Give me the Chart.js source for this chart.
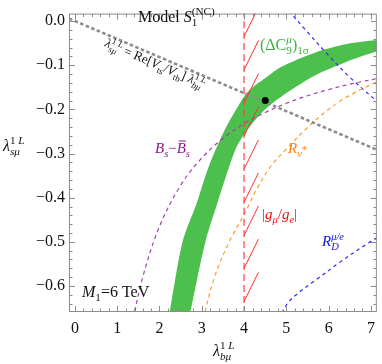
<!DOCTYPE html>
<html>
<head>
<meta charset="utf-8">
<script src="https://cdn.jsdelivr.net/npm/chart.js@4.4.0/dist/chart.umd.min.js"></script>
<style>
  html, body { margin: 0; padding: 0; background: #fff; }
  #wrap { width: 382px; height: 364px; }
</style>
</head>
<body>
<div id="wrap"><canvas id="chart" width="382" height="364"></canvas></div>
<script>
// ticks
const xTicks = [0, 1, 2, 3, 4, 5, 6, 7];
const yTicks = [0, -0.1, -0.2, -0.3, -0.4, -0.5, -0.6];

// (ΔC9)1σ band, upper-left edge then lower-right edge
const bandUpperX = [2.16, 2.24, 2.54, 2.87, 3.17, 3.57, 3.87, 4.10, 4.52, 4.87, 5.66, 6.43, 7.13, 7.3];
const bandUpperY = [-0.70, -0.659, -0.502, -0.415, -0.328, -0.241, -0.191, -0.159, -0.128, -0.104, -0.072, -0.052, -0.043, -0.041];
const bandLowerX = [7.3, 7.13, 6.43, 5.66, 4.87, 4.52, 4.30, 4.05, 3.80, 3.36, 3.08, 2.73, 2.64];
const bandLowerY = [-0.066, -0.069, -0.092, -0.124, -0.172, -0.198, -0.220, -0.250, -0.290, -0.415, -0.502, -0.659, -0.70];

// λs = Re[Vts/Vtb] λb
const ckmX = [-0.14, 7.3];
const ckmY = [0.006, -0.298];

// Bs mixing
const bsX = [1.38, 1.6, 2.0, 2.5, 3.0, 3.5, 4.0, 4.5, 5.0, 5.5, 6.0, 6.5, 7.3];
const bsY = [-0.674, -0.581, -0.465, -0.372, -0.31, -0.266, -0.2325, -0.207, -0.186, -0.169, -0.155, -0.143, -0.127];

// R_nu
const rnuX = [3.03, 3.3, 3.64, 4.03, 4.3, 4.64, 5.0, 5.5, 6.0, 6.36, 6.8, 7.3];
const rnuY = [-0.675, -0.58, -0.502, -0.433, -0.38, -0.328, -0.29, -0.241, -0.2, -0.176, -0.153, -0.131];

// R_D mu/e (two branches)
const rdLoX = [4.82, 5.03, 5.27, 5.66, 6.27, 6.9, 7.3];
const rdLoY = [-0.675, -0.639, -0.617, -0.589, -0.546, -0.505, -0.482];
const rdUpX = [4.95, 5.5, 6.0, 6.5, 7.3];
const rdUpY = [0.035, -0.025, -0.078, -0.127, -0.195];

// |g_mu/g_e| bound and its hatching
const gLimitX = [4, 4];
const gLimitY = [0.05, -0.7];
const hatchY = [-0.035, -0.11, -0.185, -0.26, -0.335, -0.41, -0.485, -0.56, -0.635];

// benchmark point
const dotX = [4.5];
const dotY = [-0.18];

const FONT = '"Liberation Serif", "DejaVu Serif", serif';
const pts = (xs, ys) => xs.map((x, i) => ({ x, y: ys[i] }));

function curve(xs, ys, color, dash, width) {
  return {
    data: pts(xs, ys), showLine: true, pointRadius: 0, borderColor: color,
    borderWidth: width || 1.2, borderDash: dash, tension: 0.35, fill: false, order: 2
  };
}

const bandPts = pts(bandUpperX, bandUpperY).concat(pts(bandLowerX, bandLowerY));
const hatchPts = hatchY.flatMap(y => [{ x: 4, y }, { x: 4.34, y: y + 0.066 }, { x: 4.2, y: null }]);

// rich text: runs of {t, it, sub, sup, back, cont, bar, dy}
function rich(ctx, x, y, runs, size, color) {
  let penX = 0, maxX = 0, mark = 0;
  ctx.fillStyle = color;
  ctx.strokeStyle = color;
  ctx.textBaseline = 'alphabetic';
  ctx.textAlign = 'left';
  for (const r of runs) {
    const script = r.sub || r.sup;
    const fs = script ? size * 0.7 : size;
    ctx.font = (r.it ? 'italic ' : '') + fs + 'px ' + FONT;
    const w = ctx.measureText(r.t).width;
    let x0;
    if (!script) x0 = maxX;
    else if (r.back) x0 = mark;
    else { x0 = r.cont ? penX : maxX; mark = x0; }
    let dy = r.sub ? size * 0.28 : r.sup ? -size * 0.42 : 0;
    if (r.dy !== undefined) dy = r.dy * size;
    ctx.fillText(r.t, x + x0, y + dy);
    if (r.bar) {
      ctx.lineWidth = 1;
      ctx.beginPath();
      ctx.moveTo(x + x0 + 2, y - size * 0.8);
      ctx.lineTo(x + x0 + w, y - size * 0.8);
      ctx.stroke();
    }
    penX = x0 + w;
    maxX = Math.max(maxX, penX);
  }
}

const framePlugin = {
  id: 'frame',
  afterDraw(chart) {
    const { ctx, chartArea: a, scales } = chart;
    const sx = scales.x, sy = scales.y;
    ctx.save();
    ctx.strokeStyle = '#8c8c8c';
    ctx.lineWidth = 1;
    ctx.strokeRect(a.left + 0.5, a.top + 0.5, a.right - a.left - 1, a.bottom - a.top - 1);

    const xMinor = [], yMinor = [];
    for (let i = 0; i < xTicks.length - 1; i++)
      for (let k = 1; k < 5; k++) xMinor.push(xTicks[i] + k * (xTicks[i + 1] - xTicks[i]) / 5);
    for (let i = 0; i < yTicks.length - 1; i++)
      for (let k = 1; k < 5; k++) yMinor.push(yTicks[i] + k * (yTicks[i + 1] - yTicks[i]) / 5);
    yMinor.push(-0.62, -0.64);

    ctx.beginPath();
    const xt = (v, len) => {
      const p = Math.round(sx.getPixelForValue(v)) + 0.5;
      ctx.moveTo(p, a.bottom); ctx.lineTo(p, a.bottom - len);
      ctx.moveTo(p, a.top); ctx.lineTo(p, a.top + len);
    };
    const yt = (v, len) => {
      const p = Math.round(sy.getPixelForValue(v)) + 0.5;
      ctx.moveTo(a.left, p); ctx.lineTo(a.left + len, p);
      ctx.moveTo(a.right, p); ctx.lineTo(a.right - len, p);
    };
    xTicks.forEach(v => xt(v, 6));
    xMinor.forEach(v => xt(v, 3.5));
    yTicks.forEach(v => yt(v, 6));
    yMinor.forEach(v => yt(v, 3.5));
    ctx.stroke();

    // labels
    rich(ctx, 138, 22, [{ t: 'Model ' }, { t: 'S', it: 1 }, { t: '1', sub: 1 }, { t: '(NC)', sup: 1, back: 1 }], 16, '#111');
    rich(ctx, 260, 50, [{ t: '(ΔC' }, { t: '9', sub: 1 }, { t: 'μ', sup: 1, back: 1, it: 1 }, { t: ')' }, { t: '1σ', sub: 1 }], 16, '#3cb33c');
    rich(ctx, 155, 153, [{ t: 'B', it: 1 }, { t: 's', sub: 1, it: 1 }, { t: '−' }, { t: 'B', it: 1, bar: 1 }, { t: 's', sub: 1, it: 1 }], 15, '#8a1a8a');
    rich(ctx, 288, 153, [{ t: 'R', it: 1 }, { t: 'ν', sub: 1, it: 1 }, { t: '*', sub: 1, cont: 1, dy: 0.02 }], 15, '#ff8000');
    rich(ctx, 262, 219, [{ t: '|' }, { t: 'g', it: 1 }, { t: 'μ', sub: 1, it: 1 }, { t: '/' }, { t: 'g', it: 1 }, { t: 'e', sub: 1, it: 1 }, { t: '|' }], 15, '#ee1111');
    rich(ctx, 322, 246, [{ t: 'R', it: 1 }, { t: 'D', sub: 1, it: 1 }, { t: 'μ/e', sup: 1, back: 1, it: 1 }], 15, '#1111ee');
    rich(ctx, 82, 297, [{ t: 'M', it: 1 }, { t: '1', sub: 1 }, { t: '=6 TeV' }], 16, '#111');

    const lam = (s) => [{ t: 'λ', it: 1 }, { t: s, sub: 1, it: 1 }, { t: '1', sup: 1, back: 1 }, { t: ' L', sup: 1, cont: 1, it: 1 }];
    rich(ctx, 3, 151, lam('sμ'), 16, '#111');
    rich(ctx, 213, 356, lam('bμ'), 16, '#111');

    ctx.save();
    ctx.translate(104, 46);
    ctx.rotate(0.405);
    rich(ctx, 0, 0, lam('sμ').concat([{ t: ' = Re[' }, { t: 'V', it: 1 }, { t: 'ts', sub: 1 }, { t: '/' }, { t: 'V', it: 1 }, { t: 'tb', sub: 1 }, { t: '] ' }], lam('bμ')), 13, '#111');
    ctx.restore();
    ctx.restore();
  }
};

new Chart(document.getElementById('chart'), {
  type: 'scatter',
  data: {
    datasets: [
      { data: pts(dotX, dotY), pointRadius: 3.5, pointBackgroundColor: '#000', pointBorderWidth: 0, order: 0 },
      { data: hatchPts, showLine: true, pointRadius: 0, borderColor: '#ff3030', borderWidth: 1, spanGaps: false, order: 1 },
      curve(gLimitX, gLimitY, '#ff4040', [7, 4], 1.2),
      curve(ckmX, ckmY, '#8c8c8c', [3.5, 2.5], 2.6),
      curve(bsX, bsY, '#a040b0', [4, 3.5], 1.2),
      curve(rnuX, rnuY, '#ff9a30', [4, 3.5], 1.2),
      curve(rdLoX, rdLoY, '#2a2aff', [3.5, 3.5], 1.2),
      curve(rdUpX, rdUpY, '#2a2aff', [3.5, 3.5], 1.2),
      {
        data: bandPts, showLine: true, pointRadius: 0, borderWidth: 0, borderColor: 'rgba(0,0,0,0)',
        backgroundColor: '#4dbf4d', fill: 'shape', tension: 0.3, order: 10
      }
    ]
  },
  options: {
    responsive: false,
    animation: false,
    layout: { padding: { top: 1, right: 2, left: 0, bottom: 0 } },
    plugins: { legend: { display: false }, tooltip: { enabled: false } },
    scales: {
      x: {
        type: 'linear', min: -0.14, max: 7.14,
        grid: { display: false, drawTicks: false },
        border: { display: false },
        afterBuildTicks: s => { s.ticks = xTicks.map(v => ({ value: v })); },
        afterFit: s => { s.height = 52; },
        ticks: {
          autoSkip: false, maxRotation: 0, padding: 7, color: '#111',
          font: { family: FONT, size: 16 },
          callback: v => String(v)
        }
      },
      y: {
        type: 'linear', min: -0.659, max: 0.017,
        grid: { display: false, drawTicks: false },
        border: { display: false },
        afterBuildTicks: s => { s.ticks = yTicks.map(v => ({ value: v })); },
        afterFit: s => { s.width = 69; },
        ticks: {
          autoSkip: false, padding: 4, color: '#111',
          font: { family: FONT, size: 16 },
          callback: v => (v === 0 ? '0.0' : '−' + Math.abs(v).toFixed(1))
        }
      }
    }
  },
  plugins: [framePlugin]
});
</script>
</body>
</html>
